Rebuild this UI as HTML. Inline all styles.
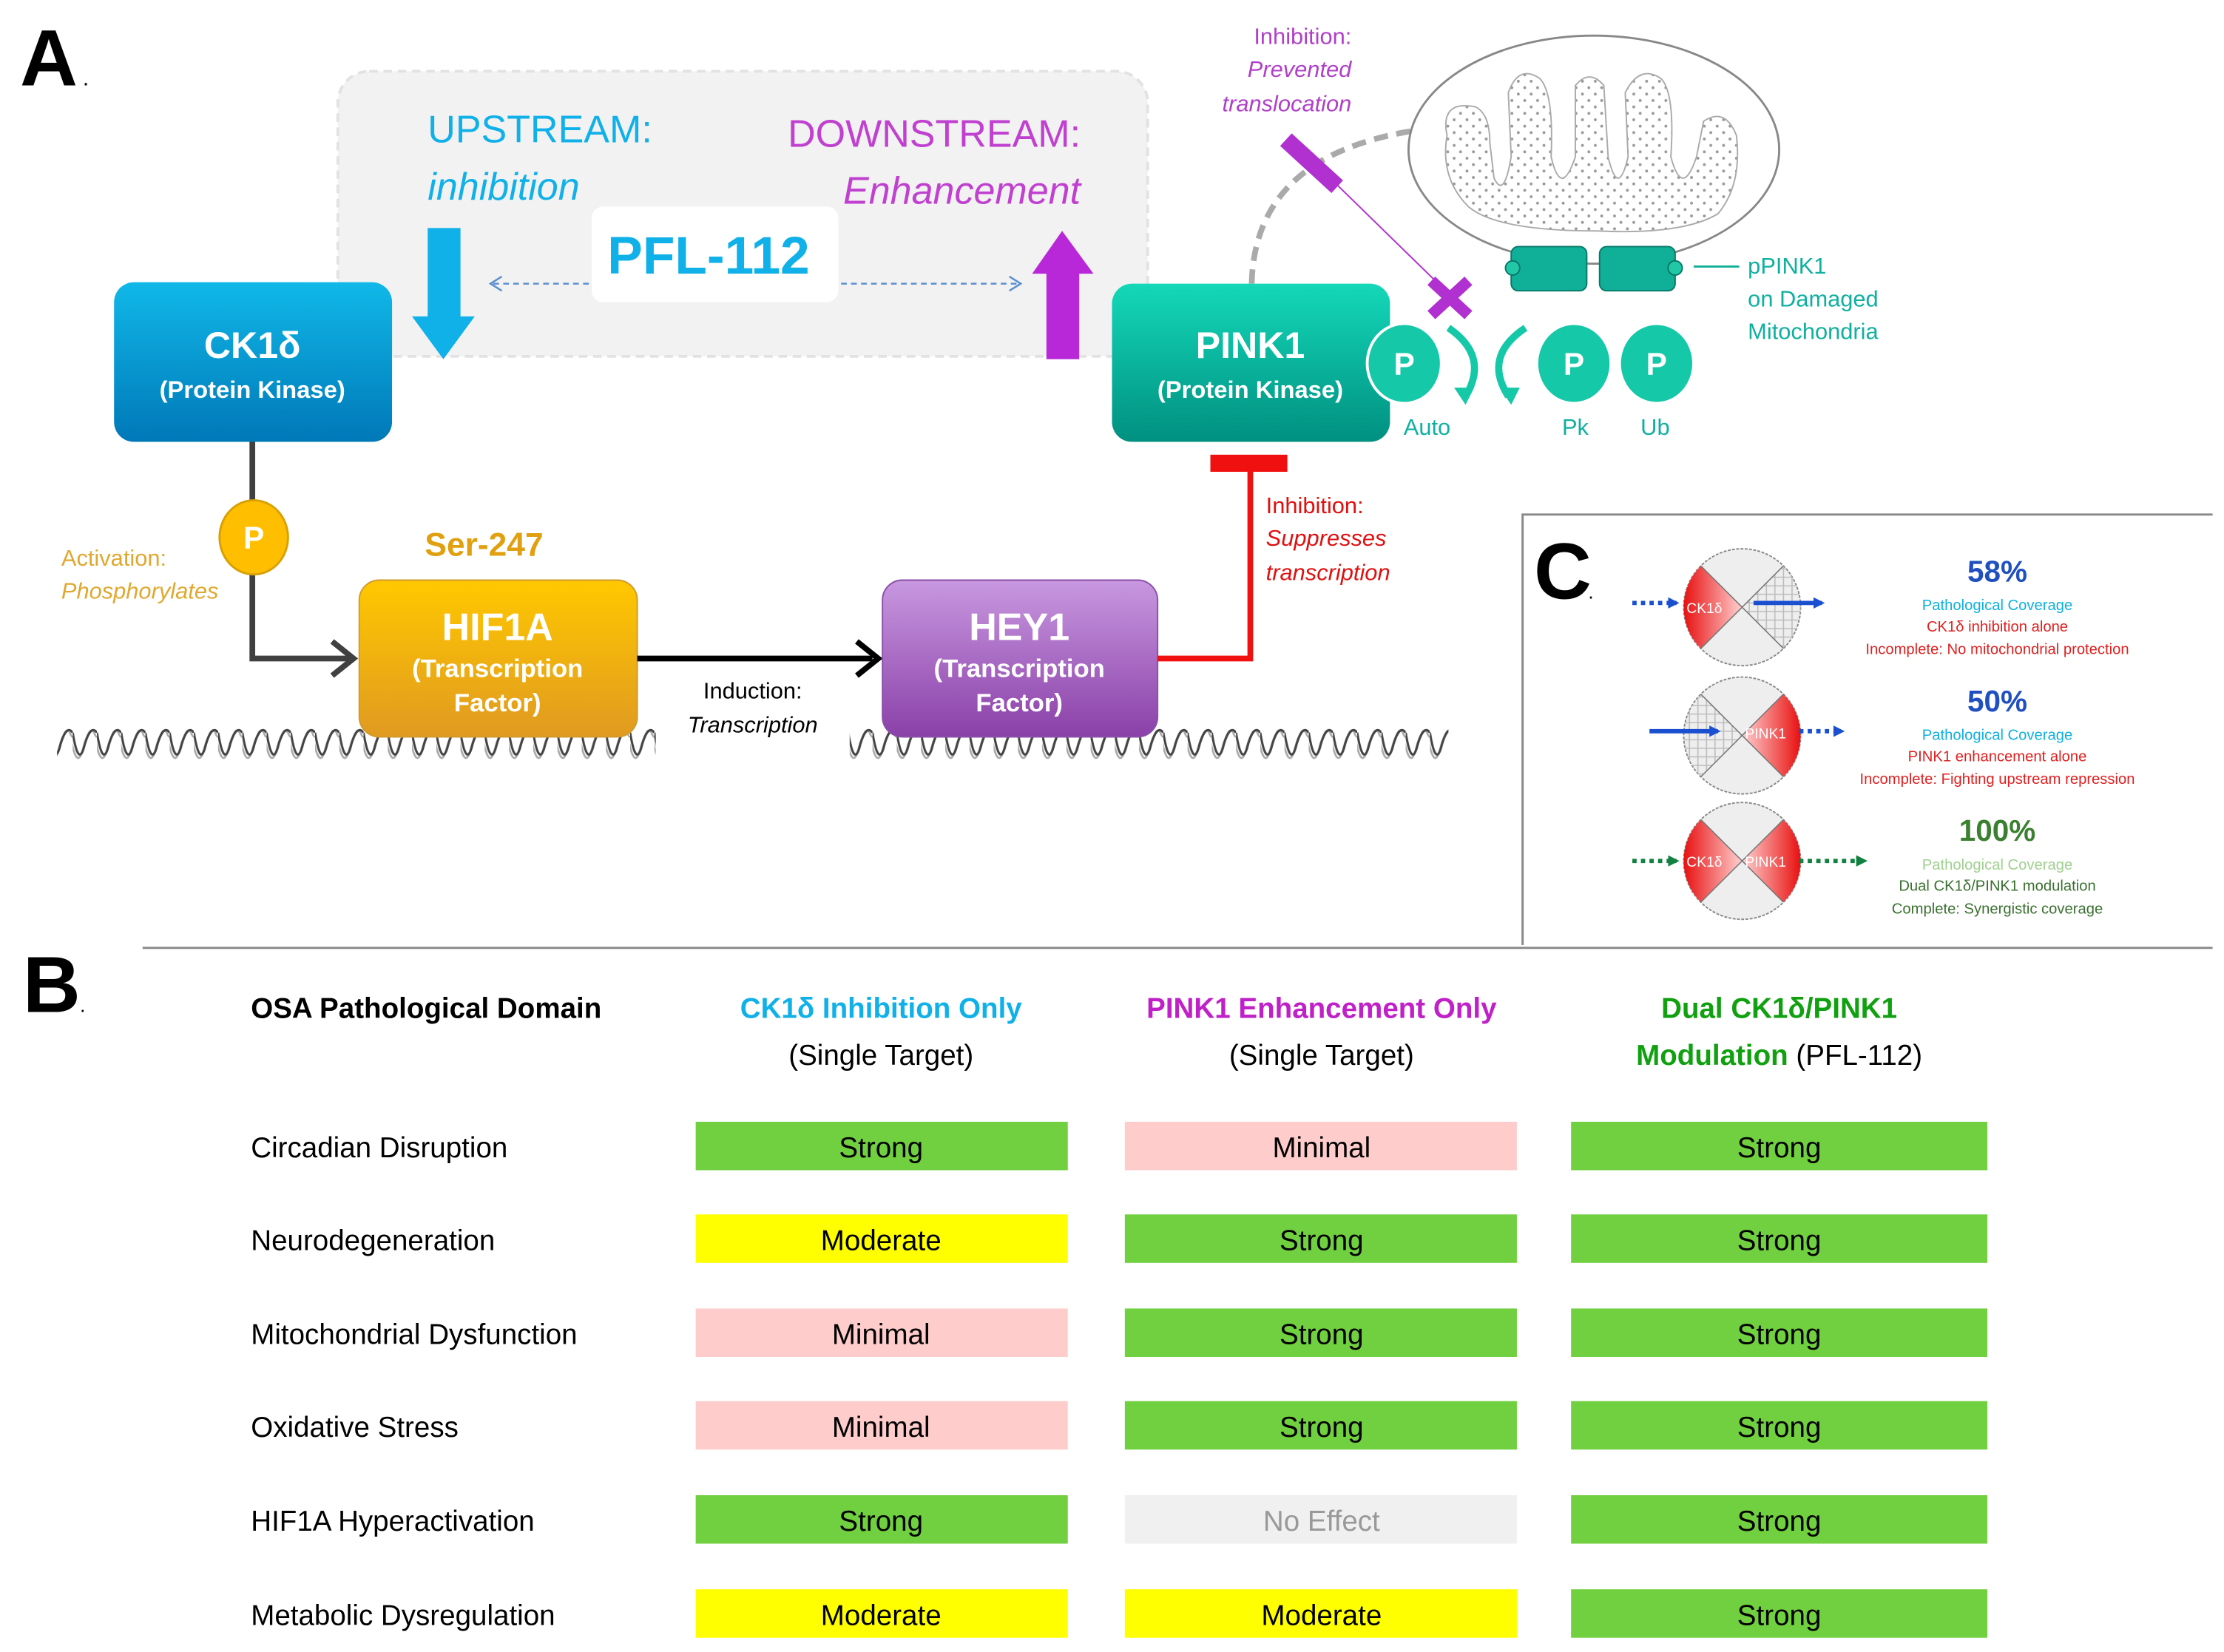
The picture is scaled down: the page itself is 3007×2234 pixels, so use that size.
<!DOCTYPE html>
<html><head><meta charset="utf-8"><style>
html,body{margin:0;padding:0;background:#fff;}
svg{display:block;}
text{font-family:"Liberation Sans","DejaVu Sans",sans-serif;}
</style></head><body>
<svg width="3007" height="2234" viewBox="0 0 1560 1159" preserveAspectRatio="none" xmlns="http://www.w3.org/2000/svg">
<defs>
<linearGradient id="gCK" x1="0" y1="0" x2="0" y2="1"><stop offset="0" stop-color="#10b8e8"/><stop offset="1" stop-color="#0078b8"/></linearGradient>
<linearGradient id="gHIF" x1="0" y1="0" x2="0" y2="1"><stop offset="0" stop-color="#ffc800"/><stop offset="1" stop-color="#e09a20"/></linearGradient>
<linearGradient id="gHEY" x1="0" y1="0" x2="0" y2="1"><stop offset="0" stop-color="#c898e0"/><stop offset="1" stop-color="#8a40a8"/></linearGradient>
<linearGradient id="gPK" x1="0" y1="0" x2="0" y2="1"><stop offset="0" stop-color="#14d8b8"/><stop offset="1" stop-color="#009080"/></linearGradient>
<linearGradient id="gRed" x1="0" y1="0" x2="1" y2="0"><stop offset="0" stop-color="#e81010"/><stop offset="1" stop-color="#ffd0d0"/></linearGradient>
<linearGradient id="gRed2" x1="1" y1="0" x2="0" y2="0"><stop offset="0" stop-color="#e81010"/><stop offset="1" stop-color="#ffd0d0"/></linearGradient>
<pattern id="dna" x="0" y="510" width="17" height="24" patternUnits="userSpaceOnUse">
<path d="M-2 4 Q2.25 30 6.5 18 Q8.5 10 10.5 6 Q13 0 15 4 L15 4 Q17 10 19 4" fill="none" stroke="#aaa" stroke-width="1.4"/>
<path d="M0 4 Q4.25 30 8.5 12 Q12.75 -2 17 4" fill="none" stroke="#444" stroke-width="1.6"/>
</pattern>
<pattern id="dots" width="9" height="9" patternUnits="userSpaceOnUse"><circle cx="3" cy="3" r="1" fill="#999"/><circle cx="7.5" cy="7.5" r="1" fill="#999"/></pattern>
<pattern id="hatch" width="6" height="6" patternUnits="userSpaceOnUse"><path d="M0 3H6M3 0V6" stroke="#bbb" stroke-width="0.8"/></pattern>
<marker id="ab" markerWidth="8" markerHeight="8" refX="6" refY="4" orient="auto" markerUnits="userSpaceOnUse"><path d="M0 0L8 4L0 8z" fill="#1a4fd0"/></marker>
<marker id="ag" markerWidth="8" markerHeight="8" refX="6" refY="4" orient="auto" markerUnits="userSpaceOnUse"><path d="M0 0L8 4L0 8z" fill="#118040"/></marker>
</defs>

<!-- Panel A -->
<text x="14" y="60" font-size="56" font-weight="bold">A</text><text x="58" y="60" font-size="16">.</text>
<rect x="237" y="50" width="568" height="200" rx="22" fill="#f2f2f2" stroke="#e2e2e2" stroke-width="2" stroke-dasharray="6,4"/>
<text x="300" y="100" font-size="27" fill="#10b0e8">UPSTREAM:</text>
<text x="300" y="140" font-size="27" fill="#10b0e8" font-style="italic">inhibition</text>
<text x="758" y="103" font-size="27" fill="#c040d0" text-anchor="end">DOWNSTREAM:</text>
<text x="758" y="143" font-size="27" fill="#c040d0" font-style="italic" text-anchor="end">Enhancement</text>
<rect x="415" y="145" width="173" height="67" rx="8" fill="#fff"/>
<text x="497" y="192" font-size="37" font-weight="bold" fill="#10b0e8" text-anchor="middle">PFL-112</text>
<line x1="413" y1="199" x2="345" y2="199" stroke="#5b8fd0" stroke-width="1.3" stroke-dasharray="4,3"/>
<path d="M352 194L344 199L352 204" fill="none" stroke="#5b8fd0" stroke-width="1.3"/>
<line x1="590" y1="199" x2="716" y2="199" stroke="#5b8fd0" stroke-width="1.3" stroke-dasharray="4,3"/>
<path d="M708 194L716 199L708 204" fill="none" stroke="#5b8fd0" stroke-width="1.3"/>
<path d="M300 160H323V222H333L311 252L289 222H300Z" fill="#10b0e8"/>
<path d="M734 252V192H724L745 162L767 192H757V252Z" fill="#b828d8"/>

<rect x="80" y="198" width="195" height="112" rx="14" fill="url(#gCK)"/>
<text x="177" y="251" font-size="26" font-weight="bold" fill="#fff" text-anchor="middle">CK1δ</text>
<text x="177" y="279" font-size="17" font-weight="bold" fill="#fff" text-anchor="middle">(Protein Kinase)</text>
<path d="M177 310V462H246" fill="none" stroke="#404040" stroke-width="4"/>
<path d="M233 450L248 462L233 474" fill="none" stroke="#404040" stroke-width="4"/>
<ellipse cx="178" cy="377" rx="24" ry="26" fill="#ffbe00" stroke="#d8a000" stroke-width="1.5"/>
<text x="178" y="385" font-size="22" font-weight="bold" fill="#fff" text-anchor="middle">P</text>
<text x="43" y="397" font-size="16" fill="#e0a830">Activation:</text>
<text x="43" y="420" font-size="16" fill="#e0a830" font-style="italic">Phosphorylates</text>
<text x="298" y="390" font-size="23" font-weight="bold" fill="#e0a010">Ser-247</text>

<rect x="40" y="510" width="420" height="24" fill="url(#dna)"/>
<rect x="596" y="510" width="420" height="24" fill="url(#dna)"/>

<rect x="252" y="407" width="195" height="110" rx="14" fill="url(#gHIF)" stroke="#d09a30"/>
<text x="349" y="449" font-size="27" font-weight="bold" fill="#fff" text-anchor="middle">HIF1A</text>
<text x="349" y="475" font-size="18" font-weight="bold" fill="#fff" text-anchor="middle">(Transcription</text>
<text x="349" y="499" font-size="18" font-weight="bold" fill="#fff" text-anchor="middle">Factor)</text>
<line x1="447" y1="462" x2="612" y2="462" stroke="#000" stroke-width="4"/>
<path d="M601 450L616 462L601 474" fill="none" stroke="#000" stroke-width="4"/>
<text x="528" y="490" font-size="16" text-anchor="middle">Induction:</text>
<text x="528" y="514" font-size="16" font-style="italic" text-anchor="middle">Transcription</text>

<rect x="619" y="407" width="193" height="110" rx="14" fill="url(#gHEY)" stroke="#8a50a8"/>
<text x="715" y="449" font-size="27" font-weight="bold" fill="#fff" text-anchor="middle">HEY1</text>
<text x="715" y="475" font-size="18" font-weight="bold" fill="#fff" text-anchor="middle">(Transcription</text>
<text x="715" y="499" font-size="18" font-weight="bold" fill="#fff" text-anchor="middle">Factor)</text>
<path d="M812 462H877V328" fill="none" stroke="#f01010" stroke-width="4"/>
<rect x="849" y="319" width="54" height="12" fill="#f01010"/>
<text x="888" y="360" font-size="16" fill="#e01010">Inhibition:</text>
<text x="888" y="383" font-size="16" fill="#e01010" font-style="italic">Suppresses</text>
<text x="888" y="407" font-size="16" fill="#e01010" font-style="italic">transcription</text>

<!-- PINK1 region -->
<path d="M878 199 Q880 110 990 92" fill="none" stroke="#aaa" stroke-width="4" stroke-dasharray="10,6"/>
<ellipse cx="1118" cy="105" rx="130" ry="80" fill="#fff" stroke="#888" stroke-width="1.5"/>
<path d="M1015 95 Q1010 70 1035 75 Q1045 80 1045 100 L1048 125 Q1055 140 1060 110 L1058 65 Q1065 45 1080 55 Q1090 65 1088 110 Q1095 140 1105 110 L1105 60 Q1115 48 1125 60 L1128 110 Q1135 140 1142 110 L1140 65 Q1150 45 1165 55 Q1175 65 1172 110 Q1180 140 1190 110 L1195 85 Q1210 75 1218 95 Q1222 130 1205 150 Q1180 165 1120 162 Q1050 162 1030 145 Q1010 125 1015 95Z" fill="url(#dots)" stroke="#aaa" stroke-width="1"/>
<rect x="1060" y="173" width="53" height="31" rx="5" fill="#10b098" stroke="#087868"/>
<rect x="1122" y="173" width="53" height="31" rx="5" fill="#10b098" stroke="#087868"/>
<circle cx="1061" cy="188" r="5" fill="#20c8a8" stroke="#087868"/>
<circle cx="1175" cy="188" r="5" fill="#20c8a8" stroke="#087868"/>
<line x1="1188" y1="187" x2="1220" y2="187" stroke="#10b098" stroke-width="1.5"/>
<text x="1226" y="192" font-size="16" fill="#10b0a0">pPINK1</text>
<text x="1226" y="215" font-size="16" fill="#10b0a0">on Damaged</text>
<text x="1226" y="238" font-size="16" fill="#10b0a0">Mitochondria</text>
<text x="948" y="31" font-size="16" fill="#b040c8" text-anchor="end">Inhibition:</text>
<text x="948" y="54" font-size="16" fill="#b040c8" font-style="italic" text-anchor="end">Prevented</text>
<text x="948" y="78" font-size="16" fill="#b040c8" font-style="italic" text-anchor="end">translocation</text>
<line x1="902" y1="98" x2="938" y2="131" stroke="#b030d0" stroke-width="12"/>
<line x1="930" y1="122" x2="1015" y2="205" stroke="#b030d0" stroke-width="1"/>
<path d="M1004 197L1030 221M1030 197L1004 221" stroke="#b030d0" stroke-width="8"/>

<rect x="780" y="199" width="195" height="111" rx="14" fill="url(#gPK)"/>
<text x="877" y="251" font-size="26" font-weight="bold" fill="#fff" text-anchor="middle">PINK1</text>
<text x="877" y="279" font-size="17" font-weight="bold" fill="#fff" text-anchor="middle">(Protein Kinase)</text>
<g fill="#14c8a8" stroke="#fff" stroke-width="2">
<ellipse cx="985" cy="255" rx="26" ry="28"/><ellipse cx="1104" cy="255" rx="26" ry="28"/><ellipse cx="1162" cy="255" rx="26" ry="28"/></g>
<g font-size="22" fill="#fff" text-anchor="middle" font-weight="bold"><text x="985" y="263">P</text><text x="1104" y="263">P</text><text x="1162" y="263">P</text></g>
<path d="M1016 230 Q1045 250 1028 278" fill="none" stroke="#14c8a8" stroke-width="5"/>
<path d="M1020 272L1028 284L1034 272Z" fill="#14c8a8"/>
<path d="M1070 230 Q1040 250 1058 278" fill="none" stroke="#14c8a8" stroke-width="5"/>
<path d="M1052 272L1060 284L1066 272Z" fill="#14c8a8"/>
<g font-size="16" fill="#10b0a0" text-anchor="middle"><text x="1001" y="305">Auto</text><text x="1105" y="305">Pk</text><text x="1161" y="305">Ub</text></g>

<!-- Panel C -->
<path d="M1068 663V361H1552" fill="none" stroke="#888" stroke-width="1.5"/>
<line x1="100" y1="665" x2="1552" y2="665" stroke="#888" stroke-width="1.5"/>
<text x="1076" y="420" font-size="56" font-weight="bold">C</text><text x="1114" y="420" font-size="14">.</text>

<g>
<circle cx="1222" cy="426" r="41" fill="#eee" stroke="#888" stroke-dasharray="2,1"/>
<path d="M1193 397L1222 426L1193 455A41 41 0 0 1 1193 397Z" fill="url(#gRed)"/>
<path d="M1251 397L1222 426L1251 455A41 41 0 0 0 1251 397Z" fill="url(#hatch)"/>
<path d="M1193 397L1251 455M1251 397L1193 455" stroke="#777" stroke-width="0.8"/>
<text x="1183" y="430" font-size="10" fill="#fff">CK1δ</text>
<line x1="1145" y1="423" x2="1176" y2="423" stroke="#1a4fd0" stroke-width="3" stroke-dasharray="3,3" marker-end="url(#ab)"/>
<line x1="1230" y1="423" x2="1278" y2="423" stroke="#1a4fd0" stroke-width="3" marker-end="url(#ab)"/>
</g>
<g>
<circle cx="1222" cy="516" r="41" fill="#eee" stroke="#888" stroke-dasharray="2,1"/>
<path d="M1251 487L1222 516L1251 545A41 41 0 0 0 1251 487Z" fill="url(#gRed2)"/>
<path d="M1193 487L1222 516L1193 545A41 41 0 0 1 1193 487Z" fill="url(#hatch)"/>
<path d="M1193 487L1251 545M1251 487L1193 545" stroke="#777" stroke-width="0.8"/>
<text x="1224" y="518" font-size="10" fill="#fff">PINK1</text>
<line x1="1157" y1="513" x2="1205" y2="513" stroke="#1a4fd0" stroke-width="3" marker-end="url(#ab)"/>
<line x1="1262" y1="513" x2="1292" y2="513" stroke="#1a4fd0" stroke-width="3" stroke-dasharray="3,3" marker-end="url(#ab)"/>
</g>
<g>
<circle cx="1222" cy="604" r="41" fill="#eee" stroke="#888" stroke-dasharray="2,1"/>
<path d="M1193 575L1222 604L1193 633A41 41 0 0 1 1193 575Z" fill="url(#gRed)"/>
<path d="M1251 575L1222 604L1251 633A41 41 0 0 0 1251 575Z" fill="url(#gRed2)"/>
<path d="M1193 575L1251 633M1251 575L1193 633" stroke="#777" stroke-width="0.8"/>
<text x="1183" y="608" font-size="10" fill="#fff">CK1δ</text>
<text x="1224" y="608" font-size="10" fill="#fff">PINK1</text>
<line x1="1145" y1="604" x2="1176" y2="604" stroke="#118040" stroke-width="3" stroke-dasharray="3,3" marker-end="url(#ag)"/>
<line x1="1262" y1="604" x2="1308" y2="604" stroke="#118040" stroke-width="3" stroke-dasharray="3,3" marker-end="url(#ag)"/>
</g>
<g text-anchor="middle">
<text x="1401" y="408" font-size="21" font-weight="bold" fill="#2050c0">58%</text>
<text x="1401" y="428" font-size="10.5" fill="#10b0e0">Pathological Coverage</text>
<text x="1401" y="443" font-size="10.5" fill="#e02020">CK1δ inhibition alone</text>
<text x="1401" y="459" font-size="10.5" fill="#e02020">Incomplete: No mitochondrial protection</text>
<text x="1401" y="499" font-size="21" font-weight="bold" fill="#2050c0">50%</text>
<text x="1401" y="519" font-size="10.5" fill="#10b0e0">Pathological Coverage</text>
<text x="1401" y="534" font-size="10.5" fill="#e02020">PINK1 enhancement alone</text>
<text x="1401" y="550" font-size="10.5" fill="#e02020">Incomplete: Fighting upstream repression</text>
<text x="1401" y="590" font-size="21" font-weight="bold" fill="#3a8030">100%</text>
<text x="1401" y="610" font-size="10.5" fill="#a0d090">Pathological Coverage</text>
<text x="1401" y="625" font-size="10.5" fill="#3a7030">Dual CK1δ/PINK1 modulation</text>
<text x="1401" y="641" font-size="10.5" fill="#3a7030">Complete: Synergistic coverage</text>
</g>

<!-- Panel B -->
<text x="16" y="710" font-size="56" font-weight="bold">B</text><text x="56" y="710" font-size="14">.</text>
<text x="176" y="714" font-size="20" font-weight="bold">OSA Pathological Domain</text>
<g text-anchor="middle" font-size="20">
<text x="618" y="714" font-weight="bold" fill="#10b0e8">CK1δ Inhibition Only</text>
<text x="618" y="747">(Single Target)</text>
<text x="927" y="714" font-weight="bold" fill="#c020c8">PINK1 Enhancement Only</text>
<text x="927" y="747">(Single Target)</text>
<text x="1248" y="714" font-weight="bold" fill="#10a010">Dual CK1δ/PINK1</text>
<text x="1248" y="747"><tspan font-weight="bold" fill="#10a010">Modulation</tspan> (PFL-112)</text>
</g>
<g font-size="20">
<text x="176" y="812">Circadian Disruption</text>
<text x="176" y="877">Neurodegeneration</text>
<text x="176" y="943">Mitochondrial Dysfunction</text>
<text x="176" y="1008">Oxidative Stress</text>
<text x="176" y="1074">HIF1A Hyperactivation</text>
<text x="176" y="1140">Metabolic Dysregulation</text>
</g>
<g>
<rect x="488" y="787" width="261" height="34" fill="#70d040"/><rect x="789" y="787" width="275" height="34" fill="#ffcccc"/><rect x="1102" y="787" width="292" height="34" fill="#70d040"/>
<rect x="488" y="852" width="261" height="34" fill="#ffff00"/><rect x="789" y="852" width="275" height="34" fill="#70d040"/><rect x="1102" y="852" width="292" height="34" fill="#70d040"/>
<rect x="488" y="918" width="261" height="34" fill="#ffcccc"/><rect x="789" y="918" width="275" height="34" fill="#70d040"/><rect x="1102" y="918" width="292" height="34" fill="#70d040"/>
<rect x="488" y="983" width="261" height="34" fill="#ffcccc"/><rect x="789" y="983" width="275" height="34" fill="#70d040"/><rect x="1102" y="983" width="292" height="34" fill="#70d040"/>
<rect x="488" y="1049" width="261" height="34" fill="#70d040"/><rect x="789" y="1049" width="275" height="34" fill="#f0f0f0"/><rect x="1102" y="1049" width="292" height="34" fill="#70d040"/>
<rect x="488" y="1115" width="261" height="34" fill="#ffff00"/><rect x="789" y="1115" width="275" height="34" fill="#ffff00"/><rect x="1102" y="1115" width="292" height="34" fill="#70d040"/>
</g>
<g text-anchor="middle" font-size="20">
<text x="618" y="812">Strong</text><text x="927" y="812">Minimal</text><text x="1248" y="812">Strong</text>
<text x="618" y="877">Moderate</text><text x="927" y="877">Strong</text><text x="1248" y="877">Strong</text>
<text x="618" y="943">Minimal</text><text x="927" y="943">Strong</text><text x="1248" y="943">Strong</text>
<text x="618" y="1008">Minimal</text><text x="927" y="1008">Strong</text><text x="1248" y="1008">Strong</text>
<text x="618" y="1074">Strong</text><text x="927" y="1074" fill="#999">No Effect</text><text x="1248" y="1074">Strong</text>
<text x="618" y="1140">Moderate</text><text x="927" y="1140">Moderate</text><text x="1248" y="1140">Strong</text>
</g>
</svg>
</body></html>
